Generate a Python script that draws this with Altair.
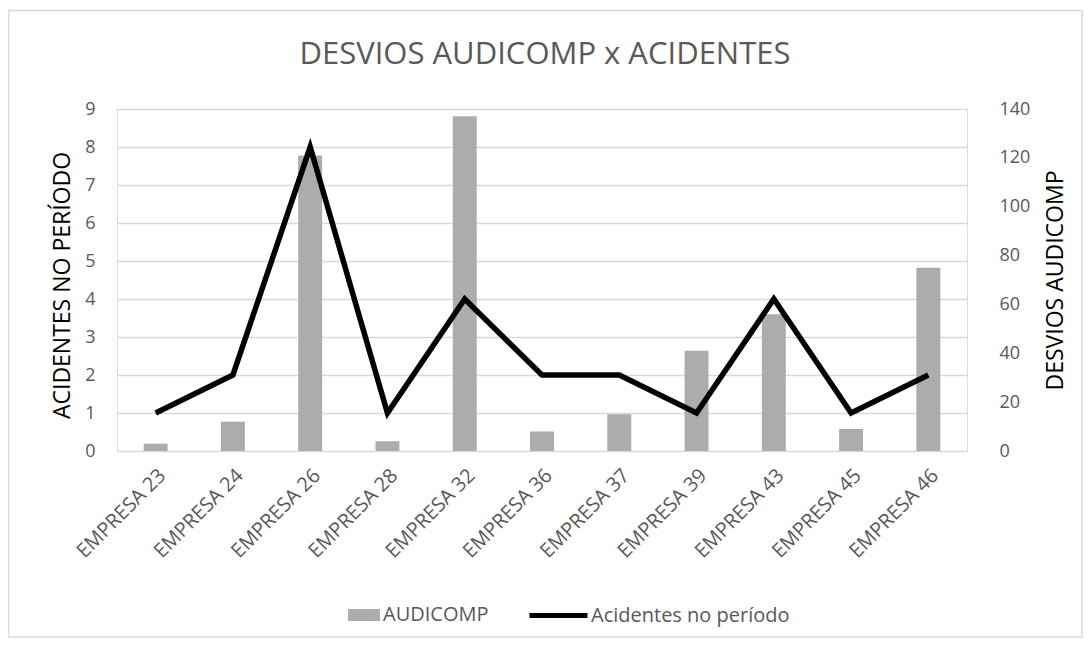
import altair as alt
import pandas as pd

empresas = ["EMPRESA 23", "EMPRESA 24", "EMPRESA 26", "EMPRESA 28", "EMPRESA 32",
            "EMPRESA 36", "EMPRESA 37", "EMPRESA 39", "EMPRESA 43", "EMPRESA 45", "EMPRESA 46"]
audicomp = [3, 12, 121, 4, 137, 8, 15, 41, 56, 9, 75]
acidentes = [1, 2, 8, 1, 4, 2, 2, 1, 4, 1, 2]

left_ticks = [0, 1, 2, 3, 4, 5, 6, 7, 8, 9]
right_ticks = [0, 20, 40, 60, 80, 100, 120, 140]

title_text = "DESVIOS AUDICOMP x ACIDENTES"

df = pd.DataFrame({"empresa": empresas, "audicomp": audicomp, "acidentes": acidentes})

FONT = "Open Sans"
GREY = "#595959"
W, H = 850, 342

xenc = alt.X("empresa:N", sort=empresas, title=None,
             scale=alt.Scale(paddingInner=0.69, paddingOuter=0.345),
             axis=alt.Axis(labelAngle=-45, labelFontSize=20, labelColor=GREY, labelFont=FONT,
                           labelAlign="right", labelBaseline="top",
                           domain=False, ticks=False, tickSize=0, labelPadding=14, labelOffset=0))

one = pd.DataFrame({"k": [0]})

frame = alt.Chart(one).mark_rect(
    fillOpacity=0, stroke="#d9d9d9", strokeWidth=1.5
).encode(x=alt.value(-108.5), x2=alt.value(965), y=alt.value(-98.5), y2=alt.value(528))

title = alt.Chart(one).mark_text(
    font=FONT, fontSize=31, color=GREY, align="center", baseline="middle"
).encode(x=alt.value(428), y=alt.value(-54), text=alt.value(title_text))

bars = alt.Chart(df).mark_bar(color="#acacac").encode(
    x=xenc,
    y=alt.Y("audicomp:Q", title="DESVIOS AUDICOMP",
            scale=alt.Scale(domain=[0, 140], nice=False),
            axis=alt.Axis(orient="right", values=right_ticks, grid=False, domain=False, ticks=False,
                          tickSize=0, labelPadding=32, labelFontSize=18, labelColor=GREY, labelFont=FONT,
                          titleFont=FONT, titleFontSize=23, titleFontWeight="normal", titleColor="#000000",
                          titleAngle=270, titleBaseline="middle", titleAlign="center",
                          titleX=88, titleY=171)),
    color=alt.Color("serie:N", scale=alt.Scale(domain=["AUDICOMP"], range=["#acacac"]),
                    legend=alt.Legend(title=None, orient="none", legendX=231, legendY=490,
                                      symbolType="M-1,-0.375H1V0.375H-1Z", symbolSize=1024,
                                      symbolStrokeWidth=0, labelFontSize=20, labelColor=GREY,
                                      labelFont=FONT, labelOffset=3, labelLimit=400))
).transform_calculate(serie="'AUDICOMP'")

line = alt.Chart(df).mark_line(strokeWidth=5.5, color="#000000").encode(
    x=xenc,
    y=alt.Y("acidentes:Q", title="ACIDENTES NO PERÍODO",
            scale=alt.Scale(domain=[0, 9], nice=False),
            axis=alt.Axis(orient="left", values=left_ticks, grid=True, gridColor="#d9d9d9", gridWidth=1.5,
                          domain=False, ticks=False, tickSize=0, labelPadding=22, labelFontSize=18,
                          labelColor=GREY, labelFont=FONT,
                          titleFont=FONT, titleFontSize=23, titleFontWeight="normal", titleColor="#000000",
                          titleAngle=270, titleBaseline="middle", titleAlign="center",
                          titleX=-55, titleY=176)),
    stroke=alt.Stroke("serie:N", scale=alt.Scale(domain=["Acidentes no período"], range=["#000000"]),
                      legend=alt.Legend(title=None, orient="none", legendX=410, legendY=475,
                                        symbolType="stroke", symbolSize=3364, symbolStrokeWidth=5,
                                        labelFontSize=20, labelColor=GREY, labelFont=FONT, labelOffset=1,
                                        labelLimit=400))
).transform_calculate(serie="'Acidentes no período'")

chart = alt.layer(frame, title, bars, line).resolve_scale(y="independent").properties(
    width=W, height=H,
    autosize=alt.AutoSizeParams(type="none"),
    padding={"left": 109, "top": 101, "right": 116, "bottom": 189}
).configure_view(strokeWidth=0).configure(background="white")

chart.save("out.html", embed_options={"renderer": "svg", "actions": False})
